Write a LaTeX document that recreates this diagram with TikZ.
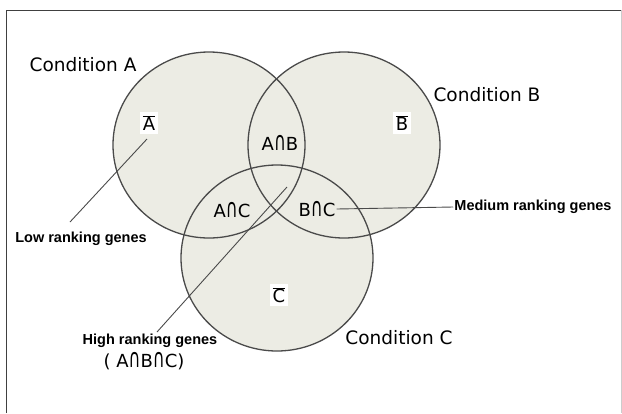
\documentclass[tikz,border=0pt]{standalone}
\usepackage{graphicx}
\usepackage{fontspec}
\setmainfont{DejaVu Sans}
\newfontfamily\notefont{Liberation Sans}
\usetikzlibrary{positioning}
\definecolor{vennfill}{HTML}{ECECE4}
\definecolor{venndraw}{HTML}{4A4A4A}
\newcommand{\setbar}[1]{$\overline{\hbox{#1}}$}
\newcommand{\isect}{\scalebox{0.9}[1.45]{∩}}

\begin{document}
\begin{tikzpicture}[x=1pt,y=-1pt,
	setline/.style={draw=venndraw,line width=1.3pt},
	condlabel/.style={inner sep=1pt,font=\fontsize{18.5}{20}\selectfont},
	setlabel/.style={inner sep=1pt,font=\fontsize{18}{20}\selectfont},
	barlabel/.style={fill=white,inner sep=3pt,font=\fontsize{18}{20}\selectfont},
	notelabel/.style={inner sep=1pt,font=\notefont\bfseries\fontsize{14.5}{16}\selectfont},
	pointer/.style={draw=venndraw,line width=0.9pt}]
			
			\useasboundingbox (0,0) rectangle (622,413);
			
			% FRAME
			\draw[black!75,line width=1pt] (6,413) -- (6,10) -- (621,10);
			\draw[black!20,line width=1pt] (621,10) -- (621,413);
			
			% SETS
			\coordinate (cA) at (209,145);
			\coordinate (cB) at (344,145);
			\coordinate (cC) at (277,258);
			\foreach \c in {cA,cB,cC}
				\fill[vennfill] (\c) circle[x radius=96,y radius=93];
			\foreach \c in {cA,cB,cC}
				\draw[setline] (\c) circle[x radius=96,y radius=93];
			
			% LABELS
			\node[condlabel] (condA) at (83,65) {Condition A};
			\node[condlabel] (condB) at (487,95) {Condition B};
			\node[condlabel] (condC) at (399,338) {Condition C};
			
			\node[barlabel] (abar) at (149,123) {\setbar{A}};
			\node[barlabel] (bbar) at (402,123) {\setbar{B}};
			\node[barlabel] (cbar) at (279,295) {\setbar{C}};
			
			\node[setlabel] (ab) at (280,143) {A\isect B};
			\node[setlabel] (ac) at (232,210) {A\isect C};
			\node[setlabel] (bc) at (317,209) {B\isect C};
			
			\node[notelabel] (medium) at (533,207) {Medium ranking genes};
			\node[notelabel] (low) at (81,239) {Low ranking genes};
			\node[notelabel] (high) at (150,341) {High ranking genes};
			\node[setlabel, below=2pt of high, xshift=-6pt] (abc) {( A\isect B\isect C)};
			
			% POINTERS
			\coordinate (lowtip) at (147,139);
			\coordinate (lowend) at (70,222);
			\coordinate (hightip) at (287,187);
			\coordinate (highend) at (157,332);
			\draw[pointer] (bc.east) -- (medium.west);
			\draw[pointer] (lowtip) -- (lowend);
			\draw[pointer] (hightip) -- (highend);

\end{tikzpicture}
\end{document}
